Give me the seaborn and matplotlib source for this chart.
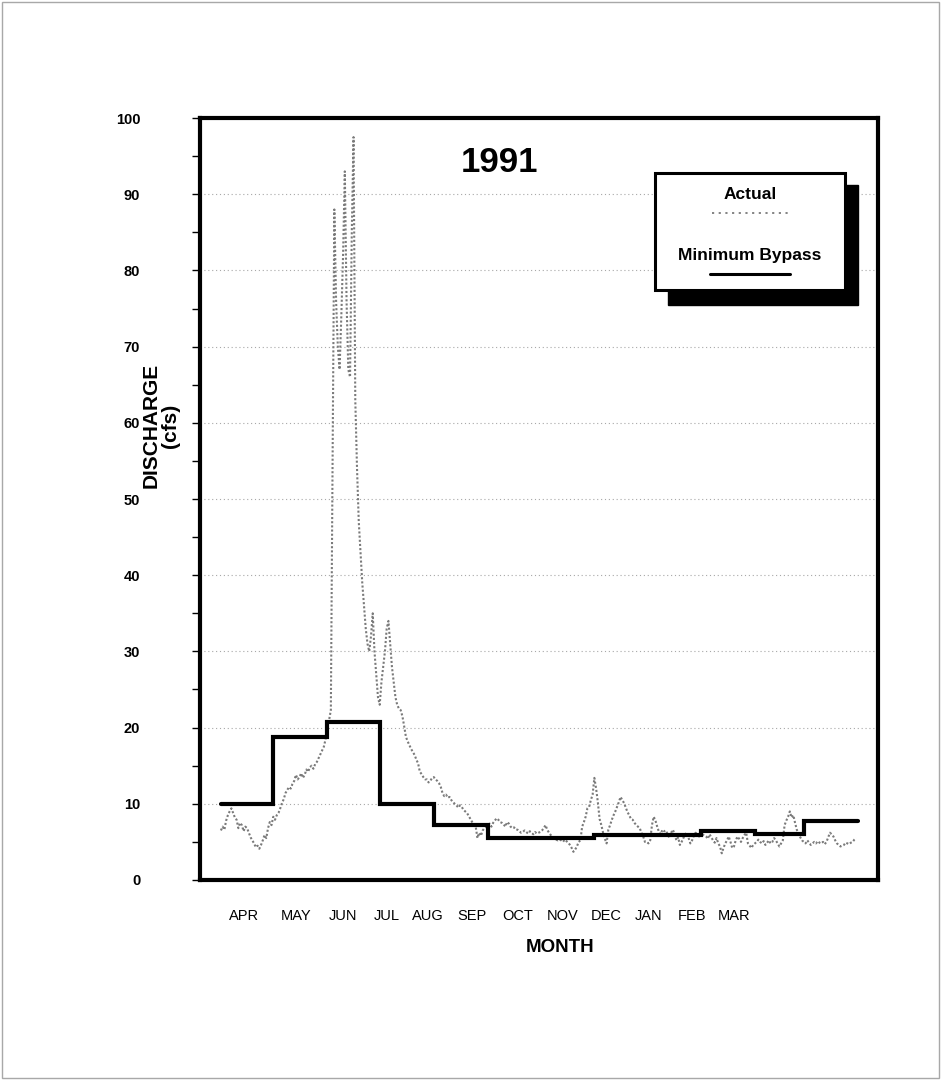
import numpy as np
import pandas as pd
import matplotlib
matplotlib.use("Agg")
import matplotlib.pyplot as plt
from matplotlib.patches import Rectangle
from matplotlib.lines import Line2D
from matplotlib.ticker import MultipleLocator
import seaborn as sns

# ---- data -------------------------------------------------------------
months = ["APR", "MAY", "JUN", "JUL", "AUG", "SEP",
          "OCT", "NOV", "DEC", "JAN", "FEB", "MAR"]
month_lengths = [30, 31, 30, 31, 31, 30, 31, 30, 31, 31, 28, 31]

# minimum bypass flow requirement by month (cfs)
min_bypass = [10.0, 18.8, 20.8, 10.0, 7.2, 5.5, 5.5, 5.9, 5.9, 6.4, 6.0, 7.8]

# actual daily discharge (cfs), water year Apr 1991 - Mar 1992
actual_apr = [6.5, 7.0, 6.6, 7.8, 8.5, 9.0, 9.4, 8.8, 8.2, 7.9,
              6.8, 7.5, 7.2, 6.4, 7.0, 6.8, 6.2, 5.6, 5.2, 4.8,
              4.3, 4.5, 4.1, 4.6, 5.2, 5.9, 5.5, 6.8, 7.6, 7.2]
actual_may = [8.3, 7.9, 8.5, 8.8, 9.4, 10.1, 10.6, 11.4, 11.8, 12.2,
              12.0, 12.6, 13.0, 13.8, 13.2, 13.5, 14.0, 13.4, 13.8, 14.5,
              14.2, 14.8, 15.0, 14.6, 15.2, 15.5, 16.0, 16.5, 17.0, 17.5,
              18.5]
actual_jun = [20.0, 21.0, 22.3, 55.0, 88.0, 76.0, 70.0, 67.0, 74.0, 82.0,
              93.0, 76.0, 67.0, 66.0, 85.0, 97.5, 63.0, 54.0, 47.0, 43.0,
              39.0, 36.0, 33.0, 31.0, 30.0, 32.0, 35.0, 30.0, 27.0, 24.0]
actual_jul = [23.0, 26.0, 28.0, 30.0, 33.0, 34.0, 31.0, 28.0, 26.0, 24.0,
              23.0, 22.5, 22.3, 21.5, 20.2, 18.8, 18.2, 17.7, 17.2, 16.8,
              16.4, 15.8, 15.3, 14.2, 13.9, 13.5, 13.2, 13.2, 12.8, 13.0,
              13.4]
actual_aug = [13.5, 13.2, 13.0, 12.7, 12.2, 11.4, 11.0, 11.2, 10.8, 10.9,
              10.5, 10.2, 10.0, 9.8, 9.5, 9.8, 9.6, 9.2, 9.0, 8.8,
              8.4, 8.0, 7.6, 7.3, 7.0, 5.5, 6.2, 5.8, 6.5, 6.8,
              7.0]
actual_sep = [7.2, 7.4, 7.0, 7.5, 7.8, 8.1, 7.9, 7.6, 7.5, 7.3,
              7.0, 7.6, 7.4, 7.0, 6.8, 6.9, 6.6, 6.6, 6.4, 6.2,
              6.3, 6.5, 6.3, 6.1, 6.4, 6.2, 6.0, 6.3, 6.1, 6.2]
actual_oct = [6.3, 6.5, 6.8, 7.2, 6.6, 6.2, 5.9, 5.6, 5.4, 5.3,
              5.2, 5.3, 5.2, 5.0, 5.3, 5.1, 4.9, 4.6, 4.2, 3.7,
              4.0, 4.4, 5.0, 5.2, 7.0, 7.6, 8.3, 9.4, 9.6, 10.5,
              11.2]
actual_nov = [13.4, 12.0, 10.2, 8.0, 7.2, 6.2, 5.4, 4.8, 6.6, 7.2,
              7.9, 8.5, 9.0, 9.6, 10.2, 10.9, 10.5, 10.1, 9.5, 8.9,
              8.5, 8.0, 7.9, 7.5, 7.2, 7.0, 6.8, 6.2, 5.7, 5.0]
actual_dec = [5.0, 4.8, 5.2, 7.2, 8.3, 7.8, 7.0, 6.3, 6.0, 6.6,
              6.4, 6.5, 6.0, 5.5, 6.2, 6.6, 6.0, 5.2, 5.6, 4.6,
              5.0, 5.5, 6.0, 6.2, 5.5, 4.8, 5.2, 5.8, 6.2, 6.0,
              5.7]
actual_jan = [6.2, 6.0, 5.8, 5.7, 5.4, 6.0, 5.6, 5.2, 4.9, 5.5,
              4.8, 4.4, 3.5, 4.2, 4.8, 5.2, 5.7, 5.0, 4.2, 4.4,
              5.2, 5.7, 5.4, 5.0, 5.5, 5.9, 6.2, 4.8, 4.5, 4.2,
              4.6]
actual_feb = [4.8, 5.0, 5.3, 5.0, 4.8, 5.1, 4.6, 4.9, 5.2, 4.8,
              5.0, 5.5, 5.2, 4.8, 4.4, 4.8, 5.2, 7.2, 7.8, 8.3,
              9.0, 8.2, 8.5, 7.5, 6.6, 6.0, 5.6, 5.2]
actual_mar = [5.0, 4.8, 5.2, 4.9, 4.6, 4.8, 5.0, 4.8, 5.1, 4.9,
              4.8, 5.0, 4.7, 5.0, 5.6, 6.2, 6.0, 5.7, 5.2, 4.8,
              4.6, 4.4, 4.5, 4.6, 4.9, 4.8, 4.7, 4.9, 5.0, 5.3,
              5.5]

actual_flow = (actual_apr + actual_may + actual_jun + actual_jul +
               actual_aug + actual_sep + actual_oct + actual_nov +
               actual_dec + actual_jan + actual_feb + actual_mar)

# ---- derived tables -----------------------------------------------------
month_start = np.concatenate([[0], np.cumsum(month_lengths)])   # 13 edges
daily = pd.DataFrame({"day": np.arange(len(actual_flow)),
                      "flow": actual_flow})
bypass = pd.DataFrame({"day": month_start,
                       "flow": min_bypass + [min_bypass[-1]]})

# ---- style --------------------------------------------------------------
sns.set_style("white")
plt.rcParams["font.family"] = ["Liberation Sans", "DejaVu Sans"]
for key in ("text.color", "axes.labelcolor", "xtick.color", "ytick.color"):
    plt.rcParams[key] = "black"

fig = plt.figure(figsize=(9.41, 10.8), dpi=100)
ax = fig.add_axes([0.2125, 0.1852, 0.7205, 0.7055])

# horizontal dotted grid
for v in range(10, 100, 10):
    ax.axhline(v, color="#a8a8a8", lw=0.8, ls=(0, (1, 2.5)), zorder=0)

sns.lineplot(data=daily, x="day", y="flow", ax=ax, color="#7a7a7a",
             lw=1.5, linestyle=(0, (1.0, 1.0)), errorbar=None, zorder=2)
sns.lineplot(data=bypass, x="day", y="flow", ax=ax, color="black",
             lw=3.0, drawstyle="steps-post", errorbar=None, zorder=3,
             solid_joinstyle="miter")

ax.set_xlim(-12.0, 376.5)
ax.set_ylim(0, 100)

# month labels sit on their own evenly spaced scale under the plot
tick_days = [13, 43, 70, 95, 118.5, 144, 170, 196, 221, 245, 270, 294]
ax.set_xticks(tick_days)
ax.set_xticklabels(months, fontsize=10.5)
ax.tick_params(axis="x", length=0, pad=21)

ax.yaxis.set_major_locator(MultipleLocator(10))
ax.yaxis.set_minor_locator(MultipleLocator(5))
ax.tick_params(axis="y", which="both", direction="out", length=6,
               width=1, left=True, pad=37)
for lab in ax.get_yticklabels():
    lab.set_fontweight("bold")
    lab.set_fontsize(10.5)

for sp in ax.spines.values():
    sp.set_visible(True)
    sp.set_color("black")
    sp.set_linewidth(3)

ax.set_xlabel("MONTH", fontsize=13.5, fontweight="bold")
ax.xaxis.set_label_coords(0.531, -0.077)
ax.set_ylabel("DISCHARGE\n(cfs)", fontsize=15, fontweight="bold",
              linespacing=1.0)
ax.yaxis.label.set_horizontalalignment("center")
ax.yaxis.label.set_verticalalignment("center")
ax.yaxis.set_label_coords(-0.058, 0.596)

ax.text(0.4425, 0.941, "1991", transform=ax.transAxes, fontsize=25,
        fontweight="bold", ha="center", va="center")

# legend box with drop shadow
ax.add_patch(Rectangle((0.690, 0.7546), 0.2805, 0.1574, transform=ax.transAxes,
                       facecolor="black", edgecolor="black", zorder=5,
                       clip_on=False))
ax.add_patch(Rectangle((0.671, 0.774), 0.280, 0.154, transform=ax.transAxes,
                       facecolor="white", edgecolor="black", lw=2.2, zorder=6,
                       clip_on=False))
ax.text(0.811, 0.899, "Actual", transform=ax.transAxes, fontsize=12.5,
        fontweight="bold", ha="center", va="center", zorder=7)
ax.add_line(Line2D([0.755, 0.870], [0.875, 0.875], transform=ax.transAxes,
                   color="#7a7a7a", lw=1.3, ls=(0, (1.2, 2.5)), zorder=7))
ax.text(0.811, 0.820, "Minimum Bypass", transform=ax.transAxes,
        fontsize=12.5, fontweight="bold", ha="center", va="center", zorder=7)
ax.add_line(Line2D([0.752, 0.870], [0.795, 0.795], transform=ax.transAxes,
                   color="black", lw=2.2, zorder=7))

# thin page border
fig.add_artist(Rectangle((0.002, 0.002), 0.996, 0.996,
                         transform=fig.transFigure, fill=False,
                         edgecolor="#a8a8a8", lw=1))

fig.savefig("out.png", dpi=100)
